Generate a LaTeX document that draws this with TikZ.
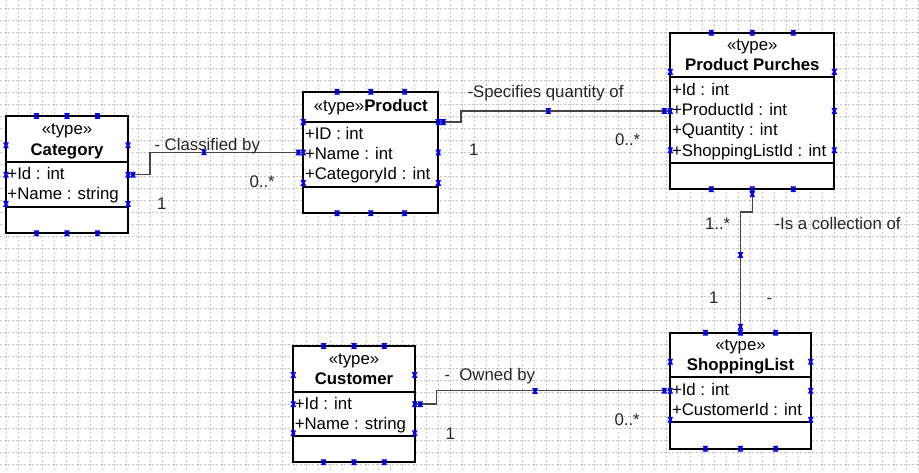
\documentclass[tikz,border=0pt]{standalone}
\usepackage{fontspec}
\setmainfont{Liberation Sans}
\usetikzlibrary{calc}
\definecolor{gridc}{HTML}{C4C4C4}
\definecolor{handc}{HTML}{0000F0}
\definecolor{linec}{HTML}{454545}
\newcommand\boxhandles[1]{%
  \foreach \t in {0.25,0.5,0.75}{%
    \pic at ($(#1.north west)!\t!(#1.north east)$) {hnd};
    \pic at ($(#1.south west)!\t!(#1.south east)$) {hnd};
    \pic at ($(#1.north west)!\t!(#1.south west)$) {hnd};
    \pic at ($(#1.north east)!\t!(#1.south east)$) {hnd};
  }}
\newcommand\divline[2]{%
  \draw[divl] ($(#1.north west)+(0,#2)$) -- ($(#1.north east)+(0,#2)$);}
\begin{document}
\begin{tikzpicture}[x=1pt,y=-1pt,
  gridl/.style={gridc, line width=0.8pt, dash pattern=on 2pt off 2pt},
  cls/.style={draw=black, line width=1.7pt, fill=white, anchor=north west, inner sep=0, outer sep=0},
  divl/.style={black, line width=1.7pt},
  conn/.style={linec, line width=1.4pt},
  txt/.style={inner sep=0, outer sep=0, font=\fontsize{16.8}{20}\selectfont},
  row/.style={txt, anchor=base west},
  hd/.style={txt, anchor=base},
  lbl/.style={txt, anchor=base west, text=black!85},
  hnd/.pic={\fill[handc] (-2.9,-2.9) -- (2.9,-2.9) -- (1.3,0) -- (2.9,2.9) -- (-2.9,2.9) -- (-1.3,0) -- cycle;}
]
\useasboundingbox (0,0) rectangle (919,472);
\fill[white] (0,0) rectangle (919,472);
% grid
\foreach \gx in {6,18,...,918} \draw[gridl] (\gx,0) -- (\gx,472);
\foreach \gy in {8,20,...,470} \draw[gridl] (0,\gy) -- (919,\gy);

% class boxes
\node[cls, minimum width=122pt, minimum height=117.3pt] (cat) at (6,116) {};
\node[cls, minimum width=135pt, minimum height=121.6pt] (prod) at (303.3,91.7) {};
\node[cls, minimum width=164pt, minimum height=156.6pt] (pp) at (670.3,32.7) {};
\node[cls, minimum width=140.4pt, minimum height=116pt] (sl) at (670.3,332.7) {};
\node[cls, minimum width=121.4pt, minimum height=116.3pt] (cust) at (293.3,346) {};

\divline{cat}{45.7}\divline{cat}{90.7}
\divline{prod}{30.3}\divline{prod}{95}
\divline{pp}{44.6}\divline{pp}{130.6}
\divline{sl}{44.6}\divline{sl}{89.6}
\divline{cust}{45.7}\divline{cust}{90}

% texts
\node[hd] (catS) at (67,134.5) {«type»};
\node[hd] (catN) at (67,155) {\bfseries Category};
\node[row] (catA1) at (7.5,179.5) {+Id : int};
\node[row] (catA2) at (7.5,199.5) {+Name : string};

\node[hd] (prodN) at (370.8,111) {«type»\textbf{Product}};
\node[row] (prodA1) at (305,139.5) {+ID : int};
\node[row] (prodA2) at (305,159.5) {+Name : int};
\node[row] (prodA3) at (305,179.5) {+CategoryId : int};

\node[hd] (ppS) at (752.3,50.5) {«type»};
\node[hd] (ppN) at (752.3,70) {\bfseries Product Purches};
\node[row] (ppA1) at (672,95.5) {+Id : int};
\node[row] (ppA2) at (672,115.5) {+ProductId : int};
\node[row] (ppA3) at (672,135.5) {+Quantity : int};
\node[row] (ppA4) at (672,156) {+ShoppingListId : int};

\node[hd] (slS) at (740.5,350.5) {«type»};
\node[hd] (slN) at (740.5,370.5) {\bfseries ShoppingList};
\node[row] (slA1) at (672,395.5) {+Id : int};
\node[row] (slA2) at (672,415.5) {+CustomerId : int};

\node[hd] (custS) at (354,364.5) {«type»};
\node[hd] (custN) at (354,384) {\bfseries Customer};
\node[row] (custA1) at (294.8,409) {+Id : int};
\node[row] (custA2) at (294.8,429) {+Name : string};

% connectors
\coordinate (prodR) at ($(prod.north east)!0.25!(prod.south east)$);
\draw[conn] (cat.east) -- ++(22,0) |- (prod.west);
\draw[conn] (prodR) -- ++(22.7,0) |- (pp.west);
\draw[conn] (pp.south) -- ++(0,22.7) -| (sl.north);
\draw[conn] (cust.east) -- ++(22,0) |- (sl.west);

% connector labels
\node[lbl] (l1) at (154.5,150.5) {- Classified by};
\node[lbl] (m1a) at (157,209.5) {1};
\node[lbl] (m1b) at (249.5,187.5) {0..*};

\node[lbl] (l2) at (467.5,97.7) {-Specifies quantity of};
\node[lbl] (m2a) at (469,155.5) {1};
\node[lbl] (m2b) at (615,145) {0..*};

\node[lbl] (l3) at (774.5,229) {-Is a collection of};
\node[lbl] (m3a) at (705,229) {1..*};
\node[lbl] (m3b) at (709,303.3) {1};
\node[lbl] (m3c) at (766.5,303.3) {-};

\node[lbl] (l4) at (444.5,380.7) {-~~Owned by};
\node[lbl] (m4a) at (445.5,439.3) {1};
\node[lbl] (m4b) at (614.5,425) {0..*};

% handles
\boxhandles{cat}\boxhandles{prod}\boxhandles{pp}\boxhandles{sl}\boxhandles{cust}
\pic at ($(cat.east)+(5,0)$) {hnd};
\pic at ($(prod.west)+(-5,0)$) {hnd};
\pic at (204,152.3) {hnd};
\pic at ($(prodR)+(5,0)$) {hnd};
\pic at ($(pp.west)+(-6,0)$) {hnd};
\pic at (548.3,111) {hnd};
\pic at ($(pp.south)+(0,5)$) {hnd};
\pic at ($(sl.north)+(0,-6)$) {hnd};
\pic at (740.5,255) {hnd};
\pic at ($(cust.east)+(5.5,0)$) {hnd};
\pic at ($(sl.west)+(-6,0)$) {hnd};
\pic at (535,391) {hnd};
\end{tikzpicture}
\end{document}
